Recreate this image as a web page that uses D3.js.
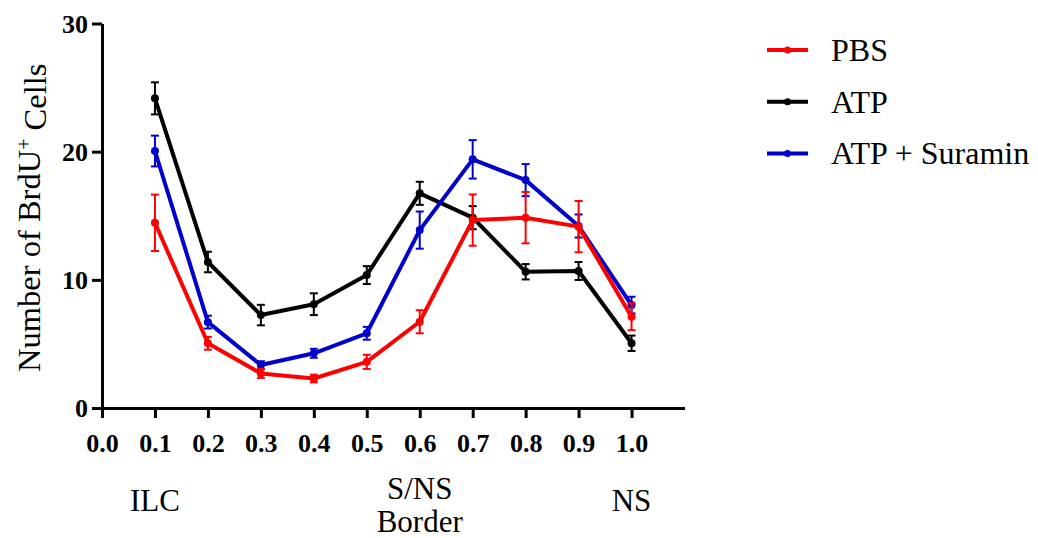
<!DOCTYPE html>
<html>
<head>
<meta charset="utf-8">
<script src="https://cdn.jsdelivr.net/npm/d3@7"></script>
<style>
  html, body { margin: 0; padding: 0; background: #fff; }
  svg { display: block; }
  .serif { font-family: "Liberation Serif", "Times New Roman", Times, "DejaVu Serif", serif; }
</style>
</head>
<body>
<svg id="chart" width="1038" height="538"></svg>
<script>
// Relative position along the ILC → NS axis
const positions = [0.1, 0.2, 0.3, 0.4, 0.5, 0.6, 0.7, 0.8, 0.9, 1.0];

// Mean BrdU+ cell counts and SEM per group
const pbsMean = [14.45, 5.05, 2.7, 2.3, 3.6, 6.73, 14.66, 14.85, 14.15, 7.12];
const pbsSem  = [2.2, 0.5, 0.35, 0.3, 0.55, 0.9, 2.0, 2.0, 2.0, 1.05];
const atpMean = [24.16, 11.39, 7.25, 8.1, 10.37, 16.75, 14.85, 10.63, 10.69, 5.05];
const atpSem  = [1.25, 0.8, 0.8, 0.85, 0.7, 0.9, 0.9, 0.6, 0.7, 0.6];
const surMean = [20.05, 6.7, 3.35, 4.27, 5.83, 13.88, 19.4, 17.78, 14.2, 8.03];
const surSem  = [1.2, 0.5, 0.3, 0.35, 0.5, 1.45, 1.5, 1.25, 0.9, 0.65];

const seriesNames = ["PBS", "ATP", "ATP + Suramin"];
const seriesColors = ["#ff0000", "#000000", "#0000cc"];

const xTicks = [0.0, 0.1, 0.2, 0.3, 0.4, 0.5, 0.6, 0.7, 0.8, 0.9, 1.0];
const yTicks = [0, 10, 20, 30];

// Region labels under the x axis
const regionLabels = [
  { pos: 0.1, lines: ["ILC"] },
  { pos: 0.6, lines: ["S/NS", "Border"] },
  { pos: 1.0, lines: ["NS"] }
];

const series = [
  { name: seriesNames[0], color: seriesColors[0], mean: pbsMean, sem: pbsSem },
  { name: seriesNames[1], color: seriesColors[1], mean: atpMean, sem: atpSem },
  { name: seriesNames[2], color: seriesColors[2], mean: surMean, sem: surSem }
];

const svg = d3.select("#chart");

const x = d3.scaleLinear().domain([0, 1.1]).range([102, 684.5]);
const y = d3.scaleLinear().domain([0, 30]).range([408, 23.5]);

// Axes
const xAxis = d3.axisBottom(x).tickValues(xTicks).tickFormat(d3.format(".1f"))
  .tickSize(10).tickSizeOuter(0);
const yAxis = d3.axisLeft(y).tickValues(yTicks).tickFormat(d3.format("d"))
  .tickSize(10).tickSizeOuter(0);

const gx = svg.append("g").attr("transform", `translate(0,${y(0)})`).call(xAxis);
const gy = svg.append("g").attr("transform", `translate(${x(0)},0)`).call(yAxis);

[gx, gy].forEach(g => {
  g.attr("font-family", null).attr("font-size", null);
  g.select(".domain").attr("stroke", "#000").attr("stroke-width", 3);
  g.selectAll(".tick line").attr("stroke", "#000").attr("stroke-width", 3);
  g.selectAll(".tick text")
    .attr("class", "serif")
    .attr("fill", "#000")
    .style("font-weight", "bold")
    .style("font-size", "26px");
});
gx.selectAll(".tick text").attr("y", 44).attr("dy", 0);
gy.selectAll(".tick text").attr("x", -14).attr("dy", "0.34em");

// Y axis title
const yTitle = svg.append("text")
  .attr("class", "serif")
  .attr("transform", `translate(40,${(y(0) + y(30)) / 2 + 2}) rotate(-90)`)
  .attr("text-anchor", "middle")
  .style("font-size", "32.5px")
  .attr("fill", "#000");
yTitle.append("tspan").text("Number of BrdU");
yTitle.append("tspan").attr("dy", "-0.45em").style("font-size", "20px").text("+");
yTitle.append("tspan").attr("dy", "0.45em").text(" Cells");

// Region labels
regionLabels.forEach(r => {
  const t = svg.append("text")
    .attr("class", "serif")
    .attr("text-anchor", "middle")
    .style("font-size", "31px")
    .attr("fill", "#000");
  const baseY = r.lines.length > 1 ? 499 : 511;
  r.lines.forEach((ln, i) => {
    t.append("tspan").attr("x", x(r.pos)).attr("y", baseY + i * 33).text(ln);
  });
});

// Series: draw ATP first, then ATP + Suramin, then PBS on top
const drawOrder = [1, 2, 0];
const line = d3.line().x(d => x(d.p)).y(d => y(d.m));

drawOrder.forEach(idx => {
  const s = series[idx];
  const pts = positions.map((p, i) => ({ p, m: s.mean[i], e: s.sem[i] }));
  const g = svg.append("g");

  // error bars
  const eb = g.selectAll("g.eb").data(pts).join("g").attr("class", "eb");
  eb.append("line")
    .attr("x1", d => x(d.p)).attr("x2", d => x(d.p))
    .attr("y1", d => y(d.m + d.e)).attr("y2", d => y(d.m - d.e))
    .attr("stroke", s.color).attr("stroke-width", 2);
  [1, -1].forEach(sign => {
    eb.append("line")
      .attr("x1", d => x(d.p) - 4).attr("x2", d => x(d.p) + 4)
      .attr("y1", d => y(d.m + sign * d.e)).attr("y2", d => y(d.m + sign * d.e))
      .attr("stroke", s.color).attr("stroke-width", 2);
  });

  g.append("path").datum(pts)
    .attr("d", line)
    .attr("fill", "none")
    .attr("stroke", s.color)
    .attr("stroke-width", 4)
    .attr("stroke-linejoin", "round");

  g.selectAll("circle").data(pts).join("circle")
    .attr("cx", d => x(d.p)).attr("cy", d => y(d.m)).attr("r", 4)
    .attr("fill", s.color);
});

// Legend
const legend = svg.append("g");
series.forEach((s, i) => {
  const ly = 50 + i * 51.7;
  legend.append("line")
    .attr("x1", 767).attr("x2", 808).attr("y1", ly).attr("y2", ly)
    .attr("stroke", s.color).attr("stroke-width", 4);
  legend.append("circle").attr("cx", 787.5).attr("cy", ly).attr("r", 3.5).attr("fill", s.color);
  legend.append("text")
    .attr("class", "serif")
    .attr("x", 831).attr("y", ly + 11)
    .style("font-size", "32px")
    .attr("fill", "#000")
    .text(s.name);
});
</script>
</body>
</html>
